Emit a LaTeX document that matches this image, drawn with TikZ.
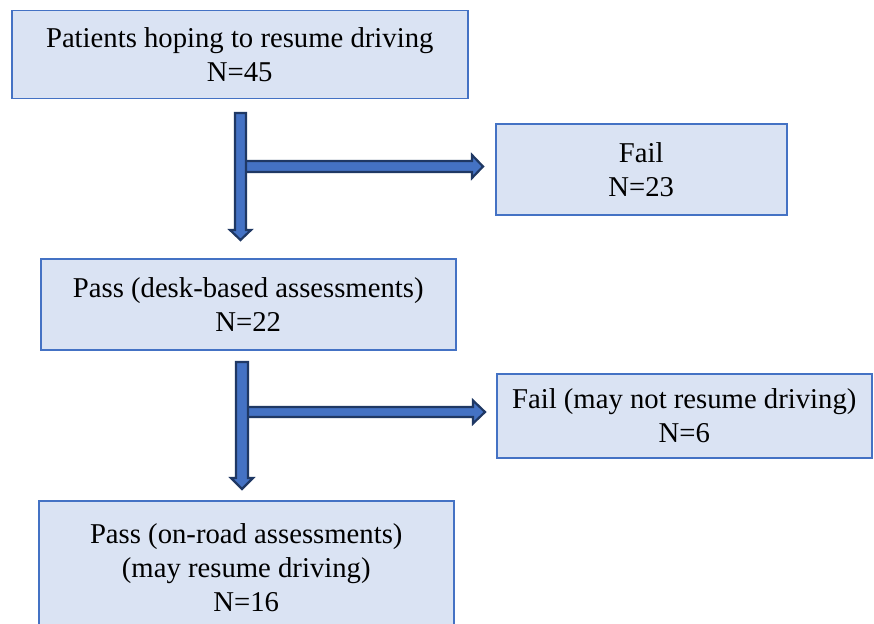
\documentclass[tikz,border=0pt]{standalone}
\usepackage{fontspec}
\setmainfont{Liberation Serif}
\usetikzlibrary{calc}
\definecolor{boxline}{HTML}{4472C4}
\definecolor{boxfill}{HTML}{DAE3F3}
\definecolor{arrfill}{HTML}{4472C4}
\definecolor{arrline}{HTML}{1F3864}
\begin{document}
\begin{tikzpicture}[x=1pt,y=-1pt,
  box/.style={draw=boxline, fill=boxfill, line width=1.5pt, anchor=north west,
    align=center, inner sep=0pt, font=\fontsize{28.7}{34}\selectfont},
  blockarrow/.style={fill=arrfill, draw=arrline, line width=2.2pt, line join=miter}]
\useasboundingbox (0,0) rectangle (874,623);
\clip (0,0) rectangle (874,623);
\fill[white] (0,0) rectangle (874,623);

\node[box, minimum width=456pt, minimum height=88pt] (start) at (11,10) {Patients hoping to resume driving\\N=45};
\node[box, minimum width=291pt, minimum height=91pt] (fail1) at (495,123) {Fail\\N=23};
\node[box, minimum width=415pt, minimum height=91pt] (pass1) at (40,258) {Pass (desk-based assessments)\\N=22};
\node[box, minimum width=375pt, minimum height=84pt] (fail2) at (496,373) {Fail (may not resume driving)\\N=6};
\node[box, minimum width=415pt, minimum height=134pt] (pass2) at (38,500) {Pass (on-road assessments)\\(may resume driving)\\N=16};

% first split arrow
\coordinate (v1top) at (240.5,113);
\coordinate (v1tip) at (240.5,240);
\coordinate (h1start) at (240.5,166.5);
\coordinate (h1tip) at (fail1.west |- h1start);
\draw[blockarrow] ($(h1start)+(0,-5.5)$) -- ($(h1tip)+(-23,-5.5)$) -- ($(h1tip)+(-23,-11.5)$)
  -- ($(h1tip)+(-12,0)$) -- ($(h1tip)+(-23,11.5)$) -- ($(h1tip)+(-23,5.5)$) -- ($(h1start)+(0,5.5)$) -- cycle;
\draw[blockarrow] ($(v1top)+(-5.5,0)$) -- ($(v1top)+(5.5,0)$) -- ($(v1tip)+(5.5,-10)$) -- ($(v1tip)+(10.5,-10)$)
  -- (v1tip) -- ($(v1tip)+(-10.5,-10)$) -- ($(v1tip)+(-5.5,-10)$) -- cycle;

% second split arrow
\coordinate (v2top) at (242,362);
\coordinate (v2tip) at (242,489);
\coordinate (h2start) at (242,412);
\coordinate (h2tip) at (fail2.west |- h2start);
\draw[blockarrow] ($(h2start)+(0,-5)$) -- ($(h2tip)+(-23,-5)$) -- ($(h2tip)+(-23,-11.5)$)
  -- ($(h2tip)+(-11,0)$) -- ($(h2tip)+(-23,11.5)$) -- ($(h2tip)+(-23,5)$) -- ($(h2start)+(0,5)$) -- cycle;
\draw[blockarrow] ($(v2top)+(-6,0)$) -- ($(v2top)+(6,0)$) -- ($(v2tip)+(6,-11)$) -- ($(v2tip)+(11,-11)$)
  -- (v2tip) -- ($(v2tip)+(-11,-11)$) -- ($(v2tip)+(-6,-11)$) -- cycle;
\end{tikzpicture}
\end{document}
